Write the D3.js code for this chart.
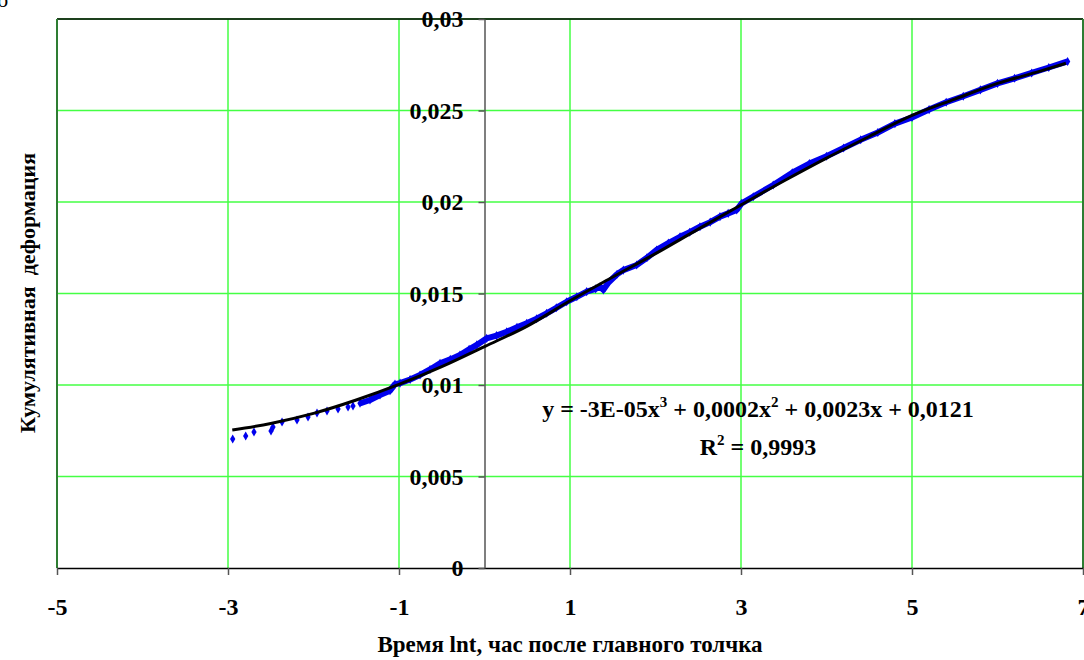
<!DOCTYPE html>
<html>
<head>
<meta charset="utf-8">
<script src="https://cdn.jsdelivr.net/npm/d3@7"></script>
<style>
  body { margin: 0; background: #fff; }
  svg { display: block; font-family: "Liberation Serif", "Times New Roman", serif; font-weight: bold; }
</style>
</head>
<body>
<div id="chart"></div>
<script>
// --- data ---
const xTicks = [-5, -3, -1, 1, 3, 5, 7];
const xTickLabels = ["-5", "-3", "-1", "1", "3", "5", "7"];
const yTicks = [0, 0.005, 0.01, 0.015, 0.02, 0.025, 0.03];
const yTickLabels = ["0", "0,005", "0,01", "0,015", "0,02", "0,025", "0,03"];

// observed points (sparse start)
const sparseX = [-2.945, -2.793, -2.696, -2.497, -2.474, -2.368, -2.193, -2.064, -1.959, -1.842, -1.713, -1.596, -1.538];
const sparseY = [0.00705, 0.00721, 0.00743, 0.00749, 0.0077, 0.00798, 0.00809, 0.00825, 0.00847, 0.00858, 0.00869, 0.0088, 0.00885];

// observed points (dense band)
const denseX = [-1.456, -1.339, -1.222, -1.105, -1.047, -0.988, -0.87, -0.754, -0.637, -0.52, -0.4, -0.287, -0.18, -0.09,
  0.026, 0.14, 0.26, 0.38, 0.494, 0.61, 0.727, 0.84, 0.961, 1.08, 1.195, 1.3, 1.351, 1.39, 1.45, 1.55, 1.624, 1.78,
  1.9, 2.014, 2.15, 2.287, 2.4, 2.52, 2.64, 2.754, 2.85, 2.95, 3.008, 3.144, 3.377, 3.6, 3.8, 4.0, 4.2, 4.4, 4.6,
  4.8, 5.0, 5.2, 5.4, 5.6, 5.8, 6.0, 6.2, 6.4, 6.6, 6.82];
const denseY = [0.009, 0.00918, 0.00945, 0.00969, 0.01005, 0.0101, 0.0103, 0.01055, 0.01085, 0.01119, 0.0114, 0.01164, 0.01195, 0.01219,
  0.01255, 0.0127, 0.01291, 0.01315, 0.01337, 0.01362, 0.01392, 0.01422, 0.01455, 0.01482, 0.0151, 0.01525, 0.01537, 0.0152, 0.0156, 0.01605, 0.01628, 0.01656,
  0.01695, 0.01738, 0.01775, 0.0181, 0.01835, 0.01865, 0.0189, 0.0192, 0.01938, 0.01956, 0.01993, 0.02029, 0.02093, 0.0216, 0.0221, 0.0225, 0.02295, 0.0234, 0.0238,
  0.02428, 0.02462, 0.02505, 0.02545, 0.02578, 0.02613, 0.02648, 0.02676, 0.02705, 0.02735, 0.02768];

// polynomial trend line as drawn
const trendX = [-2.95, -2.5, -2.0, -1.5, -1.0, -0.5, 0, 0.5, 1.0, 1.5, 2.0, 2.5, 3.0, 3.5, 4.0, 4.5, 5.0, 5.5, 6.0, 6.5, 6.8];
const trendY = [0.00754, 0.0079, 0.00845, 0.00918, 0.01003, 0.011, 0.0121, 0.01322, 0.0146, 0.0159, 0.01718, 0.01852, 0.01984, 0.02115, 0.0224, 0.02358, 0.02473, 0.02562, 0.02648, 0.02715, 0.02758];

const W = 1084, H = 660;
const margin = { top: 19, right: 1, bottom: 92, left: 57 },
      width  = W - margin.left - margin.right,
      height = H - margin.top - margin.bottom;

const svg = d3.select("#chart").append("svg")
  .attr("width", W).attr("height", H);

// stray glyph clipped at top-left corner
svg.append("text").attr("x", -3).attr("y", 7).attr("font-size", 22).attr("font-weight", "normal").text("б");

const g = svg.append("g").attr("transform", `translate(${margin.left},${margin.top})`);

const x = d3.scaleLinear().domain([-5, 7]).range([0, width]);
const y = d3.scaleLinear().domain([0, 0.03]).range([height, 0]);

// grid
const gridColor = "#44ff44";
g.append("g").selectAll("line.v").data(xTicks).enter().append("line")
  .attr("x1", d => x(d)).attr("x2", d => x(d))
  .attr("y1", 0).attr("y2", height)
  .attr("stroke", gridColor).attr("stroke-width", 1.5);
g.append("g").selectAll("line.h").data(yTicks.slice(1)).enter().append("line")
  .attr("x1", 0).attr("x2", width)
  .attr("y1", d => y(d)).attr("y2", d => y(d))
  .attr("stroke", gridColor).attr("stroke-width", 1.5);

// frame
g.append("line").attr("x1", 0).attr("x2", width).attr("y1", 0).attr("y2", 0).attr("stroke", "#000").attr("stroke-width", 1.5);
g.append("line").attr("x1", 0).attr("x2", 0).attr("y1", 0).attr("y2", height).attr("stroke", "#2e7d32").attr("stroke-width", 2);
g.append("line").attr("x1", width).attr("x2", width).attr("y1", 0).attr("y2", height).attr("stroke", "#2e7d32").attr("stroke-width", 2);

// x axis
const xAxis = g.append("g").attr("transform", `translate(0,${height})`)
  .call(d3.axisBottom(x).tickValues(xTicks).tickFormat((d, i) => xTickLabels[i]).tickSize(7).tickSizeOuter(0).tickPadding(23));
xAxis.select(".domain").attr("stroke", "#000").attr("stroke-width", 1.5);
xAxis.selectAll(".tick line").attr("stroke", "#555").attr("stroke-width", 1.5);
xAxis.selectAll("text").attr("font-size", 24).attr("font-family", "Liberation Serif").attr("font-weight", "bold").attr("fill", "#000");

// y axis at x = 0
const yAxis = g.append("g").attr("transform", `translate(${x(0)},0)`)
  .call(d3.axisLeft(y).tickValues(yTicks).tickFormat((d, i) => yTickLabels[i]).tickSize(6).tickSizeOuter(0).tickPadding(15));
yAxis.select(".domain").attr("stroke", "#555").attr("stroke-width", 1.5);
yAxis.selectAll(".tick line").attr("stroke", "#555").attr("stroke-width", 1.5);
yAxis.selectAll("text").attr("font-size", 24).attr("font-family", "Liberation Serif").attr("font-weight", "bold").attr("fill", "#000");

// observed data
const sparse = sparseX.map((d, i) => [d, sparseY[i]]);
const dense = denseX.map((d, i) => [d, denseY[i]]);
const blue = "#0000ee";

g.append("path").datum(dense)
  .attr("fill", "none").attr("stroke", blue).attr("stroke-width", 6).attr("stroke-linejoin", "round")
  .attr("d", d3.line().x(d => x(d[0])).y(d => y(d[1])));

const diamond = d3.symbol().type(d3.symbolDiamond).size(24);
g.append("g").selectAll("path").data(sparse.concat(dense)).enter().append("path")
  .attr("d", diamond)
  .attr("transform", d => `translate(${x(d[0])},${y(d[1])})`)
  .attr("fill", blue);

// trend line
const trend = trendX.map((d, i) => [d, trendY[i]]);
g.append("path").datum(trend)
  .attr("fill", "none").attr("stroke", "#000").attr("stroke-width", 3)
  .attr("d", d3.line().curve(d3.curveMonotoneX).x(d => x(d[0])).y(d => y(d[1])));

// equation
const eq = svg.append("text").attr("x", 758).attr("y", 417).attr("text-anchor", "middle").attr("font-size", 24);
eq.append("tspan").text("y = -3E-05x");
eq.append("tspan").attr("dy", -10).attr("font-size", 15).text("3");
eq.append("tspan").attr("dy", 10).text(" + 0,0002x");
eq.append("tspan").attr("dy", -10).attr("font-size", 15).text("2");
eq.append("tspan").attr("dy", 10).text(" + 0,0023x + 0,0121");

const r2 = svg.append("text").attr("x", 758).attr("y", 455).attr("text-anchor", "middle").attr("font-size", 24);
r2.append("tspan").text("R");
r2.append("tspan").attr("dy", -10).attr("font-size", 15).text("2");
r2.append("tspan").attr("dy", 10).text(" = 0,9993");

// axis titles
svg.append("text").attr("x", 570).attr("y", 652).attr("text-anchor", "middle").attr("font-size", 23)
  .text("Время lnt, час после главного толчка");
svg.append("text").attr("transform", "rotate(-90)").attr("x", -293).attr("y", 35)
  .attr("text-anchor", "middle").attr("font-size", 22)
  .style("white-space", "pre")
  .text("Кумулятивная  деформация");
</script>
</body>
</html>
